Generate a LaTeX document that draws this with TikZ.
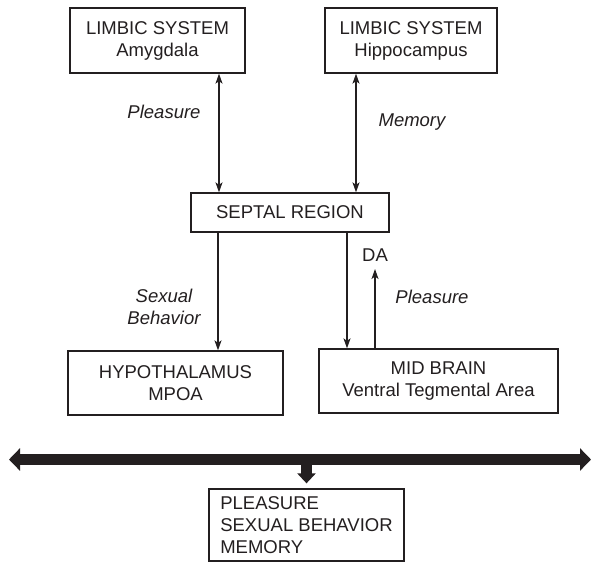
\documentclass[tikz,border=0pt]{standalone}
\usepackage{fontspec}
\setmainfont{Liberation Sans}
\usetikzlibrary{arrows.meta}
\definecolor{ink}{HTML}{231F20}
\begin{document}
\begin{tikzpicture}[x=1pt,y=-1pt,
  every node/.style={font=\fontsize{18.5}{22}\selectfont, text=ink},
  box/.style={draw=ink, line width=1.3pt, align=center, inner sep=0pt},
  lbl/.style={font=\fontsize{18.5}{22}\selectfont\itshape, align=center},
  conn/.style={draw=ink, line width=1.2pt},
  tip/.tip={Stealth[length=10pt,width=7pt,inset=2.5pt]},
  bigline/.style={draw=ink, line width=11pt}
]
\useasboundingbox (0,0) rectangle (596,563);

% boxes
\node[box, minimum width=175pt, minimum height=65pt] (amyg) at (157.5,40.5) {LIMBIC SYSTEM\\Amygdala};
\node[box, minimum width=172pt, minimum height=65pt] (hippo) at (411,40.5) {LIMBIC SYSTEM\\Hippocampus};
\node[box, minimum width=198pt, minimum height=39pt] (septal) at (290,212.5) {SEPTAL REGION};
\node[box, minimum width=215pt, minimum height=64pt] (hypo) at (175.5,383) {HYPOTHALAMUS\\MPOA};
\node[box, minimum width=239pt, minimum height=64pt] (mid) at (438.5,381) {MID BRAIN\\Ventral Tegmental Area};
\node[box, minimum width=195pt, minimum height=72pt, align=left] (bottom) at (306.5,525) {PLEASURE\\SEXUAL BEHAVIOR\\MEMORY};

% labels
\node[lbl] (lpleas) at (164,112) {Pleasure};
\node[lbl] (lmem) at (412,122) {Memory};
\node[lbl] (lsex) at (164,307) {Sexual\\Behavior};
\node[lbl] (lpleas2) at (432,297) {Pleasure};
\node (da) at (375,255) {DA};
\coordinate (datip) at (375,269);

% connectors
\draw[conn, tip-tip] ([xshift=61.5pt]amyg.south) -- ([xshift=61.5pt]amyg.south |- septal.north);
\draw[conn, tip-tip] ([xshift=-55pt]hippo.south) -- ([xshift=-55pt]hippo.south |- septal.north);
\draw[conn, -tip] ([xshift=-72pt]septal.south) -- ([xshift=-72pt]septal.south |- hypo.north);
\draw[conn, -tip] ([xshift=57pt]septal.south) -- ([xshift=57pt]septal.south |- mid.north);
\draw[conn, -tip] (datip |- mid.north) -- (datip);

% big arrow
\coordinate (bl) at (9,459.5);
\coordinate (br) at (591,459.5);
\draw[bigline, {Triangle[length=11pt,width=22pt]}-{Triangle[length=11pt,width=22pt]}] (bl) -- (br);
\draw[bigline, -{Triangle[length=10pt,width=18pt]}, shorten >=5pt] (bottom.north |- bl) -- (bottom.north);
\end{tikzpicture}
\end{document}
